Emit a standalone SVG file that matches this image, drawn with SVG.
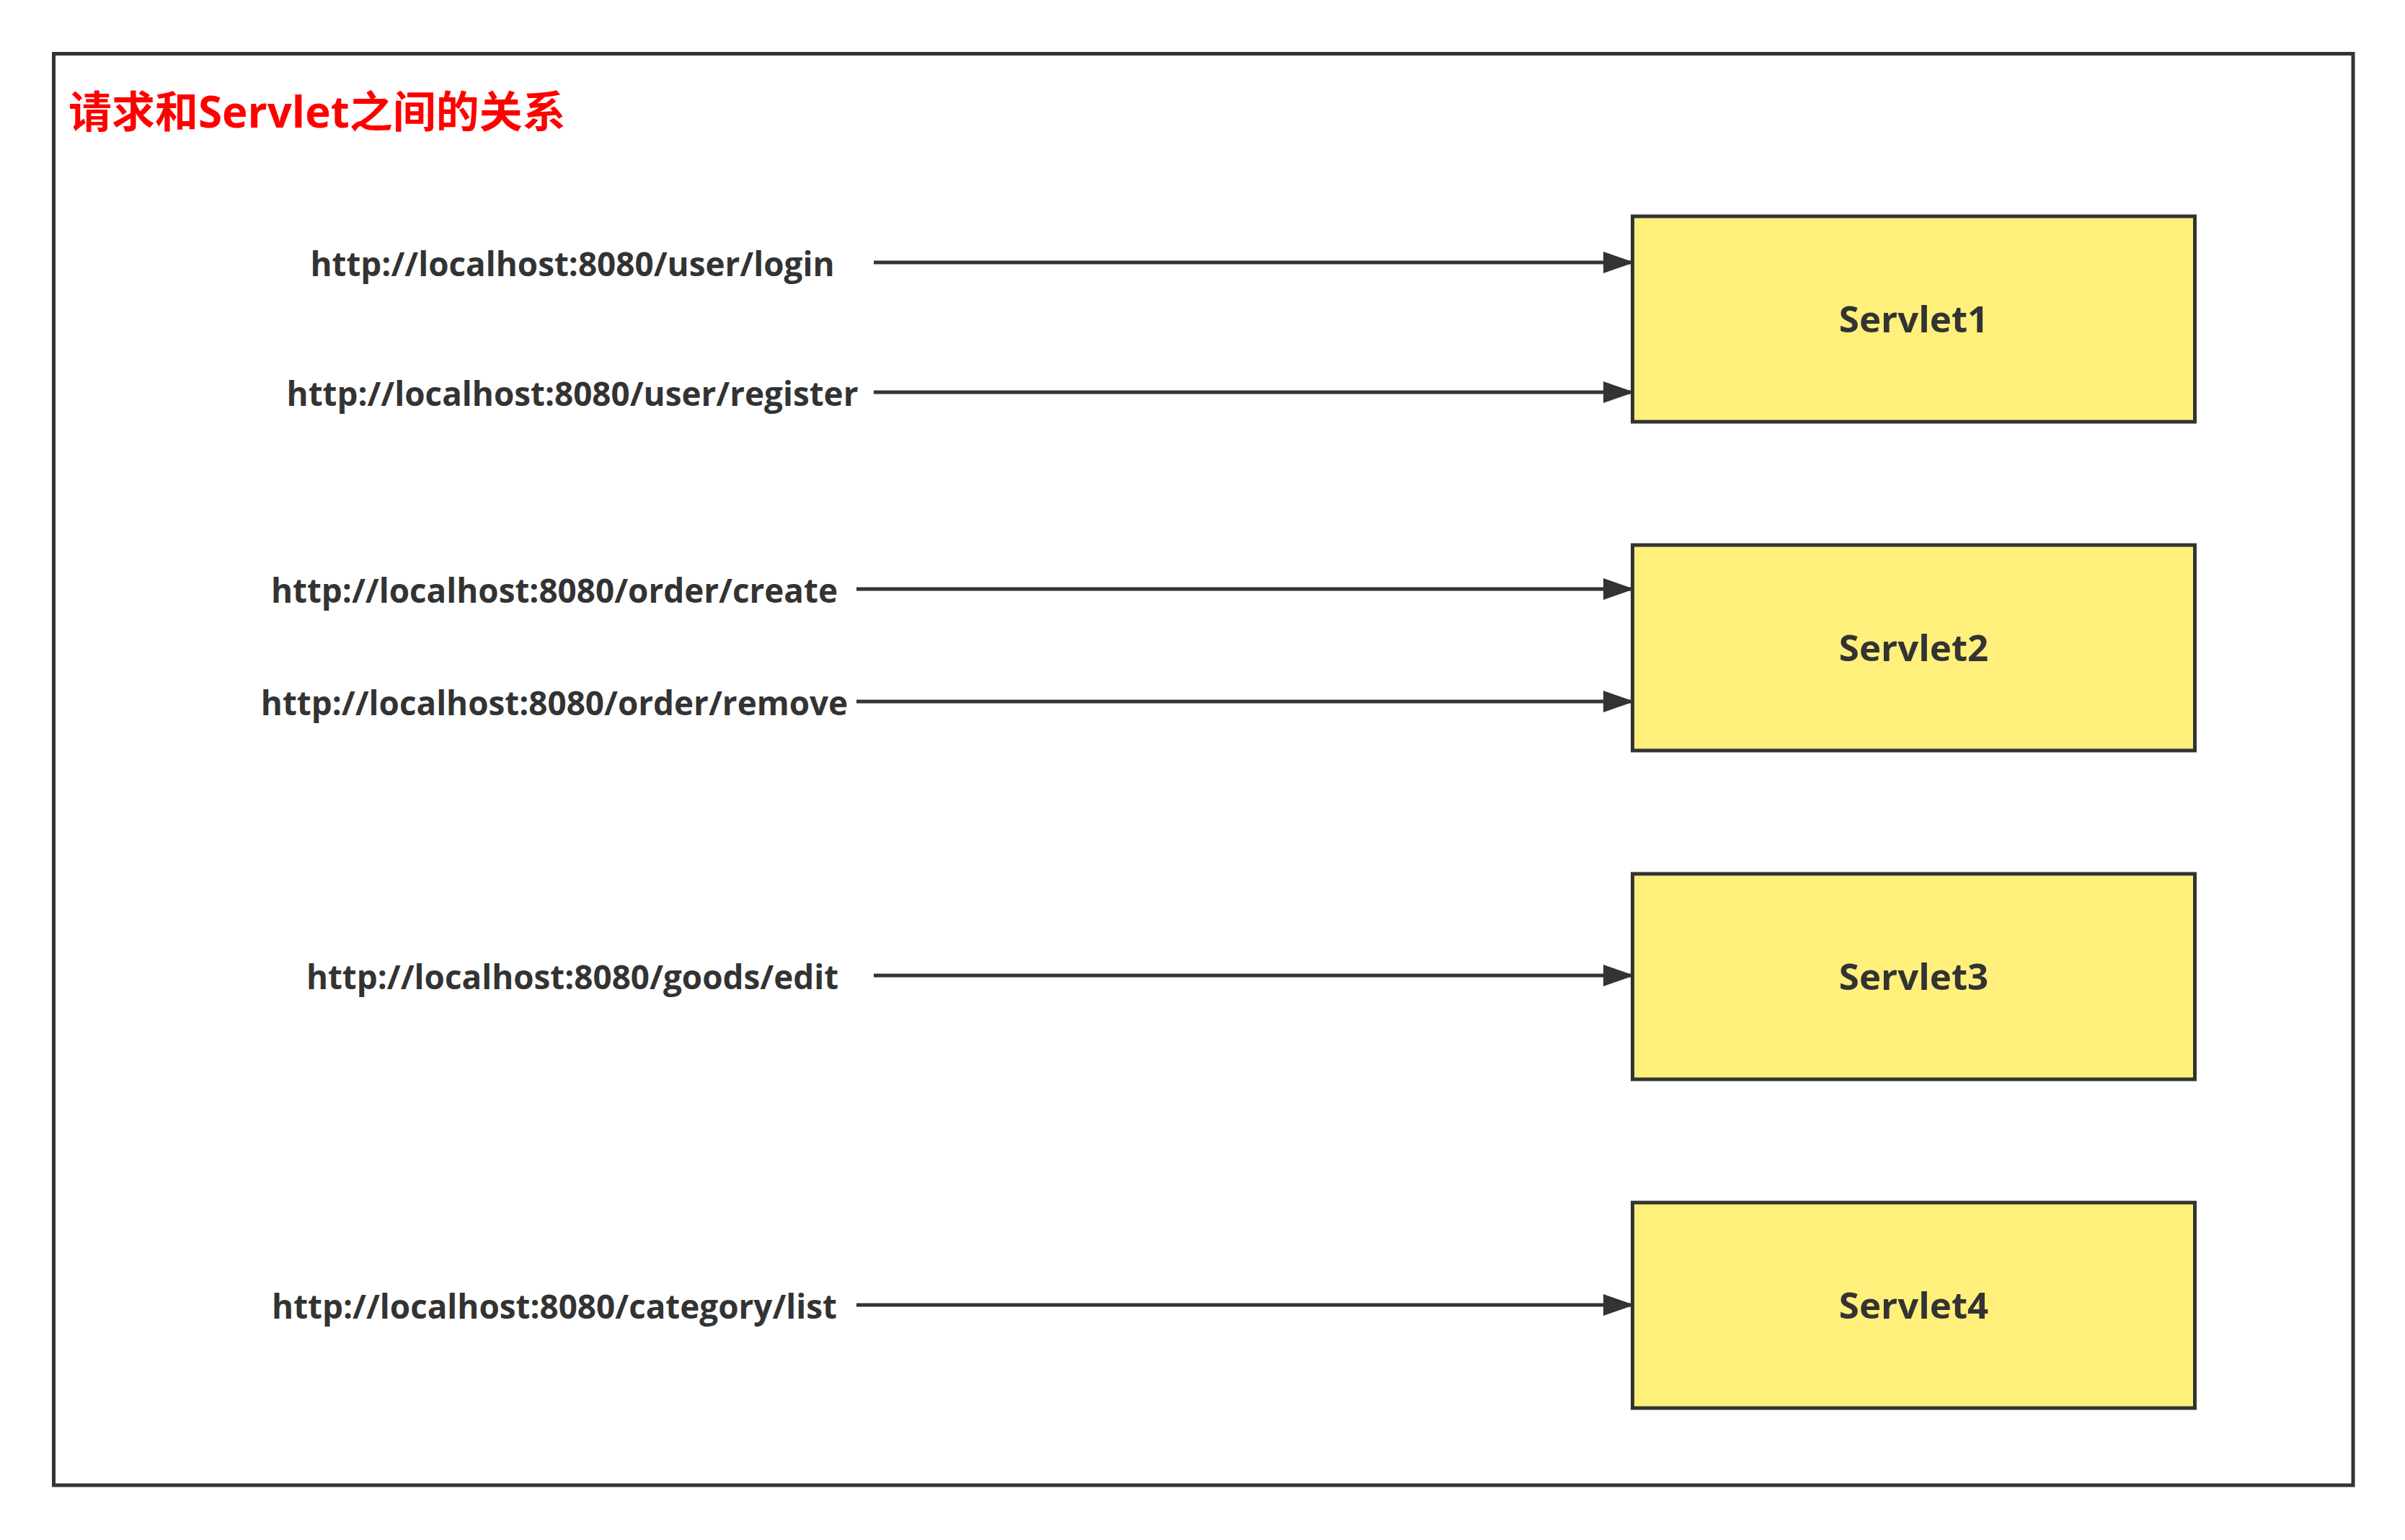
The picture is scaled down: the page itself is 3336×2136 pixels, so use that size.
<svg xmlns="http://www.w3.org/2000/svg" width="3336" height="2136" viewBox="0 0 3336 2136">
<style>
.frame{fill:#ffffff;stroke:#333333;stroke-width:5}
.box{fill:#FFF07C;stroke:#333333;stroke-width:5}
.url{font-family:"Open Sans","Noto Sans",sans-serif;font-weight:700;font-size:45.8px;fill:#333333;text-anchor:middle}
.lbl{font-family:"Open Sans","Noto Sans",sans-serif;font-weight:700;font-size:51px;fill:#333333;text-anchor:middle}
.title{font-family:"Open Sans","Noto Sans CJK SC",sans-serif;font-weight:700;font-size:60px;fill:#FF0000}
.conn{stroke:#333333;stroke-width:5;fill:none}
</style>
<defs>
<marker id="arr" markerUnits="userSpaceOnUse" markerWidth="44" markerHeight="32" refX="43" refY="15" orient="auto" viewBox="0 0 44 30">
<path d="M0,0 L43,15 L0,30 Z" fill="#333333"/>
</marker>
</defs>
<rect width="3336" height="2136" fill="#ffffff"/>
<g id="frame">
<rect class="frame" x="74.5" y="74.5" width="3189.5" height="1985.5"/>
<text class="title" x="95" y="177">请求和Servlet之间的关系</text>
</g>
<g id="url-login"><text class="url" x="794" y="383">http://localhost:8080/user/login</text></g>
<g id="url-register"><text class="url" x="794" y="563">http://localhost:8080/user/register</text></g>
<g id="url-create"><text class="url" x="769" y="836">http://localhost:8080/order/create</text></g>
<g id="url-remove"><text class="url" x="769" y="992">http://localhost:8080/order/remove</text></g>
<g id="url-edit"><text class="url" x="794" y="1372">http://localhost:8080/goods/edit</text></g>
<g id="url-list"><text class="url" x="769" y="1829">http://localhost:8080/category/list</text></g>
<g id="servlet1"><rect class="box" x="2264.5" y="300" width="780" height="285"/><text class="lbl" x="2654.5" y="461">Servlet1</text></g>
<g id="servlet2"><rect class="box" x="2264.5" y="756" width="780" height="285"/><text class="lbl" x="2654.5" y="917">Servlet2</text></g>
<g id="servlet3"><rect class="box" x="2264.5" y="1212" width="780" height="285"/><text class="lbl" x="2654.5" y="1373">Servlet3</text></g>
<g id="servlet4"><rect class="box" x="2264.5" y="1668" width="780" height="285"/><text class="lbl" x="2654.5" y="1829">Servlet4</text></g>
<g id="connectors">
<line class="conn" x1="1212" y1="364" x2="2267" y2="364" marker-end="url(#arr)"/>
<line class="conn" x1="1212" y1="544" x2="2267" y2="544" marker-end="url(#arr)"/>
<line class="conn" x1="1188" y1="817" x2="2267" y2="817" marker-end="url(#arr)"/>
<line class="conn" x1="1188" y1="973" x2="2267" y2="973" marker-end="url(#arr)"/>
<line class="conn" x1="1212" y1="1353" x2="2267" y2="1353" marker-end="url(#arr)"/>
<line class="conn" x1="1188" y1="1810" x2="2267" y2="1810" marker-end="url(#arr)"/>
</g>
</svg>
